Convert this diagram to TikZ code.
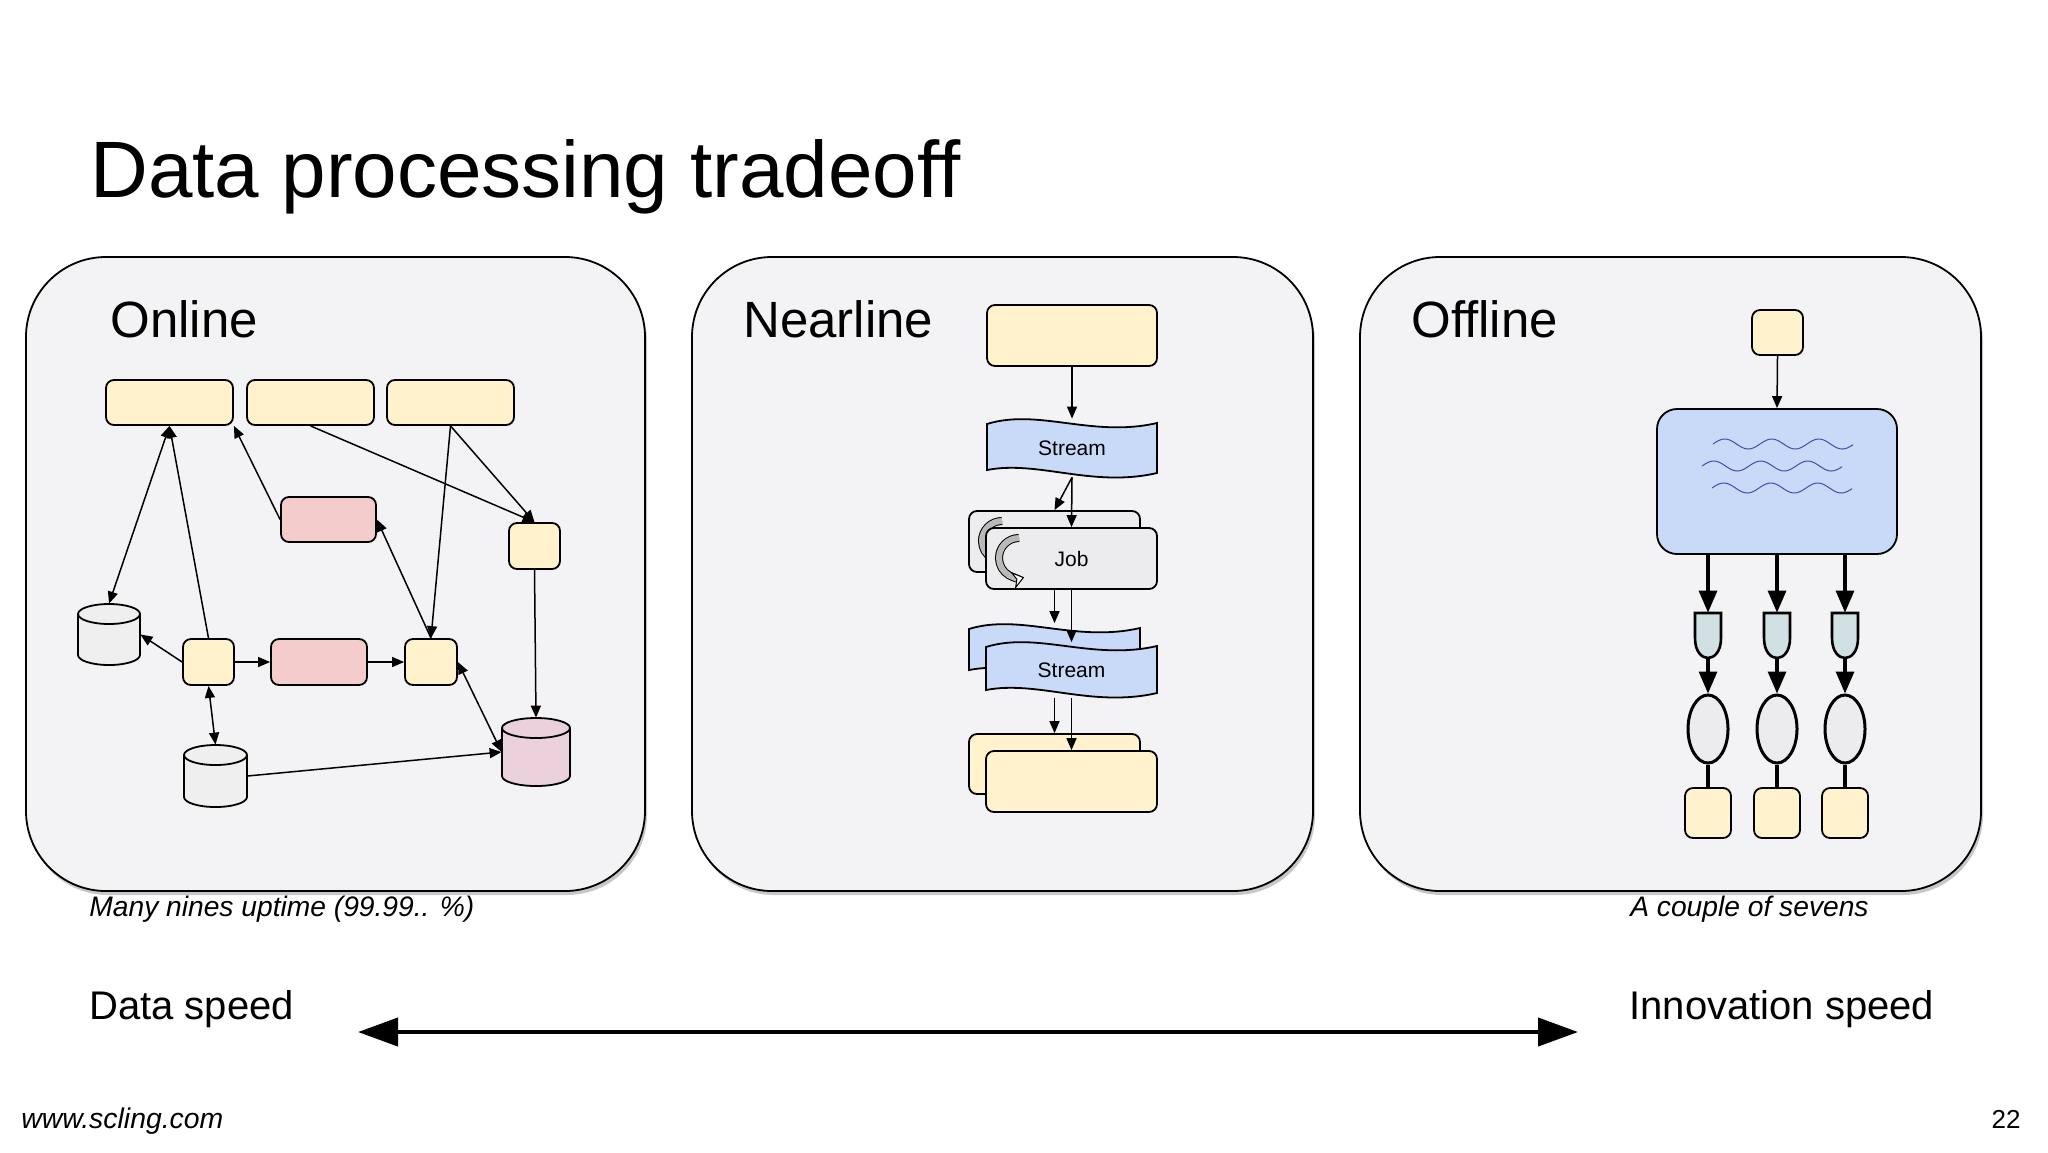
\documentclass[tikz,border=0pt]{standalone}
\usepackage{fontspec}
\setmainfont{Liberation Sans}
\usetikzlibrary{arrows.meta,shapes.geometric,calc}
\definecolor{yel}{HTML}{FFF2CC}
\definecolor{pnk}{HTML}{F4CCCC}
\definecolor{cpnk}{HTML}{EAD1DC}
\definecolor{cgry}{HTML}{EFEFEF}
\definecolor{panel}{HTML}{F3F3F5}
\definecolor{blu}{HTML}{C9DAF8}
\definecolor{shd}{HTML}{D0E0E3}
\definecolor{jobc}{HTML}{ECECEE}
\definecolor{wav}{HTML}{3C4FB0}
\tikzset{
  box/.style={draw, line width=0.9pt, rounded corners=4pt, inner sep=0pt},
  ybox/.style={box, fill=yel},
  pbox/.style={box, fill=pnk},
  ghost/.style={inner sep=0pt, draw=none},
  ar/.style={line width=0.75pt, -{Triangle[length=6pt,width=5pt]}},
  dar/.style={line width=0.75pt, {Triangle[length=6pt,width=5pt]}-{Triangle[length=6pt,width=5pt]}},
  bar/.style={line width=1.6pt, -{Triangle[length=11pt,width=9pt]}},
  panelst/.style={draw, line width=0.9pt, fill=panel, rounded corners=40pt},
}
\newcommand\cylpath[5]{% cx, cy, w, h, fill
  \filldraw[line width=0.9pt, fill=#5] ({#1-#3/2},{#2-#4/2+10}) -- ({#1-#3/2},{#2+#4/2-10})
    arc[start angle=180,end angle=0,x radius={#3/2},y radius=10] -- ({#1+#3/2},{#2-#4/2+10})
    arc[start angle=0,end angle=-180,x radius={#3/2},y radius=10] -- cycle;
  \draw[line width=0.9pt] ({#1-#3/2},{#2-#4/2+10}) arc[start angle=180,end angle=0,x radius={#3/2},y radius=10];}
\newcommand\wavebox[5]{% x0,y0,x1,y1,fill
  \filldraw[line width=0.9pt, fill=#5] (#1,{#2+6}) .. controls ({#1+0.3*(#3-#1)},{#2-10}) and ({#1+0.62*(#3-#1)},{#2+20}) .. (#3,{#2+5})
    -- (#3,{#4-3}) .. controls ({#1+0.62*(#3-#1)},{#4+12}) and ({#1+0.3*(#3-#1)},{#4-16}) .. (#1,{#4-6}) -- cycle;}
\newcommand\curl[2]{%
  \draw[line width=0.5pt, double=gray!55, double distance=3pt, -{Stealth[length=6pt,width=9pt,open,fill=white]}]
    (#1,{#2-20}) arc[start angle=270,end angle=75,x radius=20,y radius=20];}
\newcommand\shield[2]{%
  \filldraw[line width=1.3pt, fill=shd] ({#1-13},613) -- ({#1+13},613) -- ({#1+13},638)
    .. controls ({#1+13},652) and ({#1+6},658) .. (#1,658) .. controls ({#1-6},658) and ({#1-13},652) .. ({#1-13},638) -- cycle;
  \node[ghost, minimum width=13pt, minimum height=22.5pt] (#2) at (#1,635.5) {};}
\begin{document}
\begin{tikzpicture}[x=0.5pt,y=-0.5pt]
\useasboundingbox[fill=white] (0,0) rectangle (2048,1152);
% title
\node[anchor=base west, inner sep=0pt, font=\fontsize{40pt}{44pt}\selectfont] (title) at (90,197) {Data processing tradeoff};
% panels
\foreach \xa/\xb in {26/645, 692/1313, 1360/1981}{
  \fill[black!22, rounded corners=40pt] (\xa+2,262) rectangle (\xb+2,895);
  \draw[panelst] (\xa,257) rectangle (\xb,891);
}
\node[anchor=base west, inner sep=0pt, font=\fontsize{25.5pt}{30pt}\selectfont] (ton) at (110,337) {Online};
\node[anchor=base west, inner sep=0pt, font=\fontsize{25.5pt}{30pt}\selectfont] (tnear) at (743,337) {Nearline};
\node[anchor=base west, inner sep=0pt, font=\fontsize{25.5pt}{30pt}\selectfont] (toff) at (1411,337) {Offline};
% ===== Online =====
\node[ybox, minimum width=63.5pt, minimum height=22.5pt] (top1) at (169.5,402.5) {};
\node[ybox, minimum width=63.5pt, minimum height=22.5pt] (top2) at (310.5,402.5) {};
\node[ybox, minimum width=63.5pt, minimum height=22.5pt] (top3) at (450.5,402.5) {};
\node[pbox, minimum width=47.5pt, minimum height=22.5pt] (pink1) at (328.5,519.5) {};
\node[ybox, minimum width=25.5pt, minimum height=23pt] (sR) at (534.5,546) {};
\node[ybox, minimum width=25.5pt, minimum height=23pt] (A) at (208.5,662) {};
\node[pbox, minimum width=48pt, minimum height=23pt] (pink2) at (319,662) {};
\node[ybox, minimum width=26pt, minimum height=23pt] (B) at (431,662) {};
\cylpath{109}{634.5}{62}{61}{cgry}
\node[ghost, minimum width=31pt, minimum height=30.5pt] (cylL) at (109,634.5) {};
\cylpath{215.5}{776}{63}{62}{cgry}
\node[ghost, minimum width=31.5pt, minimum height=31pt] (cylB) at (215.5,776) {};
\cylpath{536}{752}{68}{68}{cpnk}
\node[ghost, minimum width=34pt, minimum height=34pt] (cylP) at (536,752) {};
\draw[dar] (top1.south) -- (cylL.north);
\draw[ar] (A.north) -- (top1.south);
\draw[ar] (pink1.west) -- (top1.south east);
\draw[ar] (top2.south) -- (sR.north);
\draw[ar] (top3.south) -- (sR.north);
\draw[ar] (top3.south) -- (B.north);
\draw[ar] (B.north) -- (pink1.east);
\draw[ar] (A.west) -- (cylL.east);
\draw[ar] (A.east) -- (pink2.west);
\draw[ar] (pink2.east) -- (B.west);
\draw[dar] (A.south) -- (cylB.north);
\draw[dar] (B.east) -- (cylP.west);
\draw[ar] (cylB.east) -- (cylP.west);
\draw[ar] (sR.south) -- (cylP.north);
% ===== Nearline =====
\node[ybox, minimum width=85pt, minimum height=30.5pt] (ntop) at (1072,335.5) {};
\wavebox{987}{418}{1157}{476}{blu}
\node[ghost, minimum width=85pt, minimum height=29pt, font=\fontsize{10.5pt}{12pt}\selectfont] (s1) at (1072,448) {Stream};
\node[box, fill=jobc, minimum width=85.5pt, minimum height=30.5pt] (jobB) at (1054.5,541.5) {};
\curl{1002}{541}
\node[box, fill=jobc, minimum width=85.5pt, minimum height=30.5pt, font=\fontsize{10.5pt}{12pt}\selectfont] (jobF) at (1071.5,558.5) {Job};
\curl{1019}{558}
\wavebox{969}{623}{1140}{676}{blu}
\node[ghost, minimum width=85.5pt, minimum height=26.5pt] (s2B) at (1054.5,650) {};
\wavebox{986}{641}{1157}{696}{blu}
\node[ghost, minimum width=85.5pt, minimum height=27.5pt, font=\fontsize{10.5pt}{12pt}\selectfont] (s2F) at (1071.5,670) {Stream};
\node[ybox, minimum width=85.5pt, minimum height=30pt] (botB) at (1054.5,764) {};
\node[ybox, minimum width=85.5pt, minimum height=30.5pt] (botF) at (1071.5,781.5) {};
\draw[ar] (ntop.south) -- (s1.north);
\draw[ar] (s1.south) -- (jobB.north);
\draw[ar] (s1.south) -- (jobF.north);
\draw[ar] (jobF.south -| jobB) -- (s2B.north);
\draw[ar] (jobF.south) -- (s2F.north);
\draw[ar] (s2F.south -| botB) -- (botB.north);
\draw[ar] (s2F.south) -- (botF.north);
% ===== Offline =====
\node[ybox, minimum width=25.5pt, minimum height=22.5pt] (otop) at (1777.5,332.5) {};
\node[box, fill=blu, rounded corners=10pt, minimum width=120pt, minimum height=72.5pt] (big) at (1777,481.5) {};
\draw[ar] (otop.south) -- (big.north);
\foreach \yy/\xs in {444/1713, 466/1702, 488/1712}
  \draw[wav, line width=0.5pt, domain=0:140, samples=80] plot ({\xs+\x},{\yy+5*sin(7.66*\x+180)});
\foreach \c/\i in {1708/1, 1777/2, 1845/3}{
  \shield{\c}{sh\i}
  \node[draw, line width=1.5pt, fill=jobc, ellipse, inner sep=0pt, minimum width=20pt, minimum height=34pt] (el\i) at (\c,729) {};
  \node[ybox, minimum width=23pt, minimum height=25pt] (sq\i) at (\c,813) {};
  \draw[bar] (big.south -| sh\i) -- (sh\i.north);
  \draw[bar] (sh\i.south) -- (el\i.north);
  \draw[line width=1.6pt] (el\i.south) -- (sq\i.north);
}
% ===== captions =====
\node[anchor=base west, inner sep=0pt, font=\itshape\fontsize{14.1pt}{16pt}\selectfont] (cap1) at (89,916) {Many nines uptime (99.99.. \%)};
\node[anchor=base east, inner sep=0pt, font=\itshape\fontsize{14.1pt}{16pt}\selectfont] (cap2) at (1869,916) {A couple of sevens};
\node[anchor=base west, inner sep=0pt, font=\fontsize{20pt}{24pt}\selectfont] (ds) at (89,1019) {Data speed};
\node[anchor=base west, inner sep=0pt, font=\fontsize{20pt}{24pt}\selectfont] (is) at (1629,1019) {Innovation speed};
\coordinate (la) at (358,1032);
\coordinate (ra) at (1578,1032);
\draw[line width=2pt, {Triangle[length=20pt,width=14pt]}-{Triangle[length=20pt,width=14pt]}] (la) -- (ra);
\node[anchor=base west, inner sep=0pt, font=\itshape\fontsize{14.2pt}{16pt}\selectfont] (www) at (21,1128) {www.scling.com};
\node[anchor=base east, inner sep=0pt, font=\fontsize{13pt}{15pt}\selectfont] (pg) at (2021,1128) {22};
\end{tikzpicture}
\end{document}
